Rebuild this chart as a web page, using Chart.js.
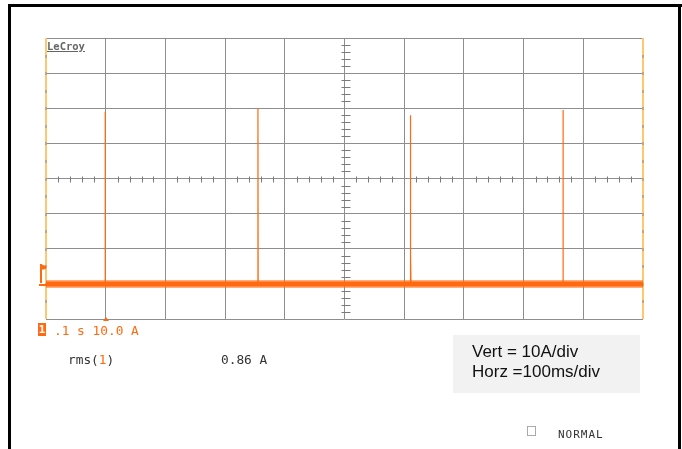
<!DOCTYPE html>
<html>
<head>
<meta charset="utf-8">
<script src="https://cdn.jsdelivr.net/npm/chart.js@4"></script>
<style>
  body { margin: 0; background: #fff; }
  #wrap { position: relative; width: 682px; height: 449px; overflow: hidden; }
  #scope { position: absolute; left: 0; top: 0; }
  .lbl { position: absolute; white-space: pre; line-height: 1; }
  .mono { font-family: "DejaVu Sans Mono", monospace; font-size: 12.8px; }
  .or { color: #ff6a10; }
</style>
</head>
<body>
<div id="wrap">
  <canvas id="scope" width="682" height="449"></canvas>
  <div class="lbl" style="left:47px;top:40px;font:bold 10.5px 'DejaVu Sans Mono',monospace;color:#666;text-decoration:underline;">LeCroy</div>
  <div class="lbl" style="left:38px;top:323px;width:8px;height:13px;background:#ff6a10;color:#fff;font:bold 11px 'DejaVu Sans Mono',monospace;text-align:center;line-height:13px;">1</div>
  <div class="lbl mono or" style="left:54px;top:325px;">.1 s 10.0 A</div>
  <div class="lbl mono" style="left:68px;top:354px;color:#333;">rms(<span class="or">1</span>)</div>
  <div class="lbl mono" style="left:221px;top:354px;color:#333;">0.86 A</div>
  <div class="lbl" style="left:453px;top:335px;width:187px;height:58px;background:#f2f2f2;"></div>
  <div class="lbl" style="left:472px;top:342px;font:17px 'Liberation Sans',Arial,sans-serif;color:#111;">Vert = 10A/div</div>
  <div class="lbl" style="left:472px;top:362px;font:17px 'Liberation Sans',Arial,sans-serif;color:#111;">Horz =100ms/div</div>
  <div class="lbl" style="left:527px;top:426px;width:7px;height:8px;border:1px solid #aaa;"></div>
  <div class="lbl" style="left:558px;top:428px;font:11px 'DejaVu Sans Mono',monospace;letter-spacing:1px;color:#333;">NORMAL</div>
</div>
<script>
// scope settings: 100 ms/div, 10 A/div
const xTicksMs = [0, 100, 200, 300, 400, 500, 600, 700, 800, 900, 1000];
const yTicksA = [-10, 0, 10, 20, 30, 40, 50, 60, 70];

// current pulses
const spikeTimesMs = [99, 355, 610, 866];
const spikePeaksA = [49, 50, 48, 49.5];
const afterPulseTimesMs = [611];
const afterPulsePeaksA = [8.5];

const traceColor = '#ff6a10';

// one trace: flat line with narrow pulses
const pulses = [];
spikeTimesMs.forEach((t, i) => pulses.push({ t: t, a: spikePeaksA[i] }));
afterPulseTimesMs.forEach((t, i) => pulses.push({ t: t, a: afterPulsePeaksA[i] }));
pulses.sort((p, q) => p.t - q.t);

const trace = [{ x: xTicksMs[0], y: 0 }];
pulses.forEach(p => {
  trace.push({ x: p.t, y: 0 }, { x: p.t, y: p.a }, { x: p.t + 0.4, y: 0 });
});
trace.push({ x: xTicksMs[xTicksMs.length - 1], y: 0 });

const baseline = [{ x: xTicksMs[0], y: 0 }, { x: xTicksMs[xTicksMs.length - 1], y: 0 }];

const scopeDecor = {
  id: 'scopeDecor',
  beforeDatasetsDraw(chart) {
    const { ctx, chartArea: a, scales: { x, y } } = chart;
    ctx.save();
    // left and right edges of the screen
    ctx.fillStyle = '#ffc870';
    ctx.fillRect(Math.round(a.left) - 1, a.top, 2, a.bottom - a.top);
    ctx.fillRect(Math.round(a.right) - 1, a.top, 2, a.bottom - a.top);
    ctx.fillStyle = 'rgba(140,140,140,0.55)';
    for (let v = yTicksA[0] + 5; v < yTicksA[yTicksA.length - 1]; v += 5) {
      const py = Math.round(y.getPixelForValue(v));
      ctx.fillRect(Math.round(a.left) - 1, py - 1, 2, 3);
      ctx.fillRect(Math.round(a.right) - 1, py - 1, 2, 3);
    }
    // center cross with minor ticks
    const cx = Math.round(x.getPixelForValue(500)) + 0.5;
    const cy = Math.round(y.getPixelForValue(30)) + 0.5;
    ctx.strokeStyle = '#7a7a7a';
    ctx.lineWidth = 1;
    ctx.beginPath();
    for (let t = 0; t <= 1000; t += 20) {
      if (t % 100 === 0) continue;
      const px = Math.round(x.getPixelForValue(t)) + 0.5;
      ctx.moveTo(px, cy - 3);
      ctx.lineTo(px, cy + 3);
    }
    for (let v = -10; v <= 70; v += 2) {
      if (v % 10 === 0) continue;
      const py = Math.round(y.getPixelForValue(v)) + 0.5;
      ctx.moveTo(cx - 4, py);
      ctx.lineTo(cx + 5, py);
    }
    ctx.stroke();
    ctx.restore();
  },
  afterDatasetsDraw(chart) {
    const { ctx, chartArea: a, scales: { x, y } } = chart;
    ctx.save();
    ctx.fillStyle = traceColor;
    // ground level marker on the left
    const gy = Math.round(y.getPixelForValue(0));
    ctx.fillRect(39, gy, 8, 2);
    // trigger level flag
    const ty = Math.round(y.getPixelForValue(5));
    ctx.fillRect(40, ty - 2, 2, 19);
    ctx.beginPath();
    ctx.moveTo(40, ty - 2);
    ctx.lineTo(46, ty);
    ctx.lineTo(46, ty + 3);
    ctx.lineTo(40, ty + 4);
    ctx.closePath();
    ctx.fill();
    // trigger position arrow on bottom edge
    const tx = Math.round(x.getPixelForValue(100));
    ctx.beginPath();
    ctx.moveTo(tx - 3, a.bottom + 2);
    ctx.lineTo(tx + 3, a.bottom + 2);
    ctx.lineTo(tx, a.bottom - 2);
    ctx.closePath();
    ctx.fill();
    // outer black frame
    ctx.fillStyle = '#000';
    ctx.fillRect(8, 4, 674, 3);
    ctx.fillRect(8, 4, 3, 445);
    ctx.fillRect(678, 4, 3, 445);
    ctx.restore();
  }
};

new Chart(document.getElementById('scope'), {
  type: 'scatter',
  data: {
    datasets: [
      {
        data: baseline,
        showLine: true,
        borderColor: 'rgba(255,106,16,0.55)',
        borderWidth: 8,
        pointRadius: 0
      },
      {
        data: baseline,
        showLine: true,
        borderColor: traceColor,
        borderWidth: 5,
        pointRadius: 0
      },
      {
        data: trace,
        showLine: true,
        borderColor: traceColor,
        borderWidth: 1.2,
        pointRadius: 0,
        tension: 0
      }
    ]
  },
  options: {
    responsive: false,
    animation: false,
    devicePixelRatio: 1,
    layout: { padding: { left: 46, right: 39, top: 38, bottom: 130 } },
    plugins: { legend: { display: false }, tooltip: { enabled: false } },
    scales: {
      x: {
        type: 'linear',
        min: xTicksMs[0],
        max: xTicksMs[xTicksMs.length - 1],
        afterBuildTicks: s => { s.ticks = xTicksMs.map(v => ({ value: v })); },
        ticks: { display: false },
        grid: { color: '#8e8e8e', lineWidth: 1, drawTicks: false },
        border: { display: false }
      },
      y: {
        type: 'linear',
        min: yTicksA[0],
        max: yTicksA[yTicksA.length - 1],
        afterBuildTicks: s => { s.ticks = yTicksA.map(v => ({ value: v })); },
        ticks: { display: false },
        grid: { color: '#8e8e8e', lineWidth: 1, drawTicks: false },
        border: { display: false }
      }
    }
  },
  plugins: [scopeDecor]
});
</script>
</body>
</html>
